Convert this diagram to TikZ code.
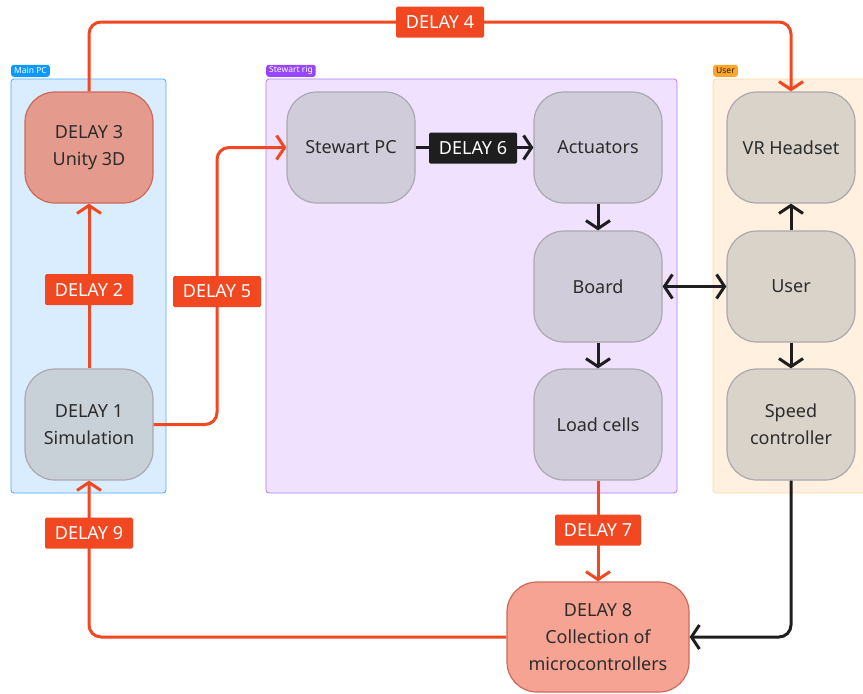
\documentclass[tikz,border=0pt]{standalone}
\usepackage{fontspec}
\setmainfont{Noto Sans}
\usetikzlibrary{arrows.meta}
\definecolor{dred}{HTML}{F24822}
\definecolor{dblack}{HTML}{1E1E1E}
\definecolor{txt}{HTML}{2C2C2C}
\definecolor{pcbg}{HTML}{DAEDFF}
\definecolor{pcbd}{HTML}{4BA9FF}
\definecolor{pctag}{HTML}{0D99FF}
\definecolor{srbg}{HTML}{F0E2FF}
\definecolor{srbd}{HTML}{B07CF5}
\definecolor{srtag}{HTML}{9747FF}
\definecolor{usbg}{HTML}{FFF0DF}
\definecolor{usbd}{HTML}{FFD9A8}
\definecolor{ustag}{HTML}{FFA629}
\definecolor{grayA}{HTML}{D1CCDA}
\definecolor{grayB}{HTML}{D9D3CA}
\definecolor{grayC}{HTML}{C8D0D8}
\definecolor{grayBd}{HTML}{ABA8AE}
\definecolor{unityF}{HTML}{E49A8C}
\definecolor{unityBd}{HTML}{CC6A5A}
\definecolor{collF}{HTML}{F6A393}
\tikzset{
  groupbox/.style={rounded corners=3pt, line width=0.8pt},
  grouptag/.style={rounded corners=2.5pt, inner xsep=3pt, inner ysep=1.5pt, font=\fontsize{8.5}{9}\selectfont, anchor=south west, minimum height=12pt},
  block/.style={rounded corners=30pt, minimum width=128pt, minimum height=111pt, line width=1.2pt, draw=grayBd, text=txt, align=center, font=\fontsize{18}{27}\selectfont},
  delaybox/.style={fill=dred, text=white, rounded corners=1.5pt, minimum width=88pt, minimum height=31pt, inner sep=0pt, font=\fontsize{18}{20}\selectfont},
  redline/.style={draw=dred, line width=3pt, rounded corners=12pt},
  blackline/.style={draw=dblack, line width=3pt, rounded corners=12pt},
  tip/.style={-{Straight Barb[length=8pt,width=24pt]}},
  tipboth/.style={{Straight Barb[length=8pt,width=24pt]}-{Straight Barb[length=8pt,width=24pt]}},
}
\begin{document}
\begin{tikzpicture}[x=1pt,y=-1pt]
\useasboundingbox (0,0) rectangle (863,694);
\clip (0,0) rectangle (863,694);
% groups
\draw[groupbox, fill=pcbg, draw=pcbd] (11,79) rectangle (166,493);
\node[grouptag, fill=pctag, text=white] (tagpc) at (11,77) {Main PC};
\draw[groupbox, fill=srbg, draw=srbd] (266,79) rectangle (677,493);
\node[grouptag, fill=srtag, text=white] (tagsr) at (266,77) {Stewart rig};
\draw[groupbox, fill=usbg, draw=usbd] (713,79) rectangle (880,493);
\node[grouptag, fill=ustag, text=dblack] (tagus) at (713,77) {User};
% blocks
\node[block, fill=unityF, draw=unityBd] (unity) at (89,147.5) {DELAY 3\\Unity 3D};
\node[block, fill=grayC] (sim) at (89,424.5) {DELAY 1\\Simulation};
\node[block, fill=grayA] (spc) at (351,147.5) {Stewart PC};
\node[block, fill=grayA] (act) at (598,147.5) {Actuators};
\node[block, fill=grayA] (board) at (598,286.5) {Board};
\node[block, fill=grayA] (load) at (598,424.5) {Load cells};
\node[block, fill=grayB] (vr) at (791,147.5) {VR Headset};
\node[block, fill=grayB] (user) at (791,286.5) {User};
\node[block, fill=grayB] (speed) at (791,424.5) {Speed\\controller};
\node[block, fill=collF, draw=unityBd, minimum width=182pt, minimum height=110pt] (coll) at (598,637) {DELAY 8\\Collection of\\microcontrollers};
% connectors
\draw[redline, tip] (sim.north) -- (unity.south);
\draw[redline, tip] (unity.north) -- (89,22) -- (791,22) -- (vr.north);
\draw[redline, tip] (sim.east) -- (217,424.5) -- (217,147.5) -- (spc.west);
\draw[blackline, tip] (spc.east) -- (act.west);
\draw[blackline, tip] (act.south) -- (board.north);
\draw[blackline, tip] (board.south) -- (load.north);
\draw[blackline, tipboth] (board.east) -- (user.west);
\draw[blackline, tip] (user.north) -- (vr.south);
\draw[blackline, tip] (user.south) -- (speed.north);
\draw[redline, tip] (load.south) -- (coll.north);
\draw[blackline, tip] (speed.south) -- (791,637) -- (coll.east);
\draw[redline, tip] (coll.west) -- (89,637) -- (sim.south);
% delay labels
\node[delaybox] (d4) at (440,22) {DELAY 4};
\node[delaybox] (d2) at (89,289.5) {DELAY 2};
\node[delaybox] (d5) at (217,291.5) {DELAY 5};
\node[delaybox, fill=dblack] (d6) at (473,148) {DELAY 6};
\node[delaybox, minimum width=86pt] (d7) at (598,530) {DELAY 7};
\node[delaybox] (d9) at (89,533) {DELAY 9};
\end{tikzpicture}
\end{document}
